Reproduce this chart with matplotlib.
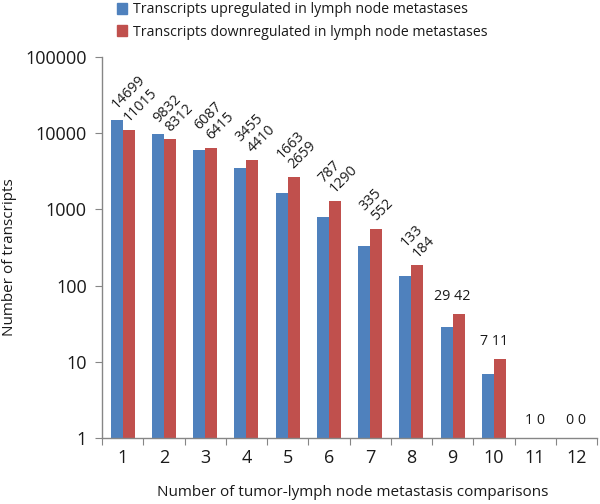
import matplotlib

matplotlib.use("Agg")
import matplotlib.pyplot as plt
import numpy as np
from matplotlib.patches import Patch

# values
comparisons = list(range(1, 13))
upregulated = [14699, 9832, 6087, 3455, 1663, 787, 335, 133, 29, 7, 1, 0]
downregulated = [11015, 8312, 6415, 4410, 2659, 1290, 552, 184, 42, 11, 0, 0]
y_ticks = [1, 10, 100, 1000, 10000, 100000]

BLUE = "#4F81BD"
RED = "#C0504D"
AXIS_GREY = "#868686"
TEXT = "#1a1a1a"

plt.rcParams["font.family"] = ["Open Sans", "DejaVu Sans"]

fig = plt.figure(figsize=(6.0, 5.04), dpi=100)
ax = fig.add_axes([0.17, 0.131, 0.825, 0.756])

x = np.array(comparisons, dtype=float)
up = np.array(upregulated, dtype=float)
down = np.array(downregulated, dtype=float)
width = 0.29

ax.bar(x - width / 2, np.where(up > 0, up, np.nan), width, color=BLUE)
ax.bar(x + width / 2, np.where(down > 0, down, np.nan), width, color=RED)

ax.set_yscale("log")
ax.set_ylim(1, 100000)
ax.set_xlim(0.5, 12.5)

# data labels: rotated for the big counts, plain for the small ones
label_kw = dict(textcoords="offset points", rotation=45,
                rotation_mode="anchor", ha="left", va="baseline",
                fontsize=10.3, color=TEXT)
for xi, u, d in zip(x, upregulated, downregulated):
    if xi <= 8:
        # the blue label sits in a row above the red one
        lift = 8 if u >= d else 13
        ax.annotate(str(u), (xi - width / 2, max(u, d)), xytext=(0, lift),
                    **label_kw)
        ax.annotate(str(d), (xi + width / 2, d), xytext=(0, 5.5), **label_kw)
    else:
        ax.text(xi, max(u, d, 1) * 1.7, f"{u} {d}", ha="center",
                va="center", fontsize=10.3, color=TEXT)

ax.set_yticks(y_ticks)
ax.set_yticklabels([str(v) for v in y_ticks])
ax.yaxis.set_minor_locator(matplotlib.ticker.NullLocator())
ax.set_xticks(np.arange(0.5, 13, 1.0))
ax.set_xticklabels([])
ax.set_xticks(x, minor=True)
ax.set_xticklabels([str(c) for c in comparisons], minor=True)
ax.tick_params(axis="x", which="major", length=5, color=AXIS_GREY)
ax.tick_params(axis="x", which="minor", length=0, pad=8, labelsize=13,
               labelcolor=TEXT)
ax.tick_params(axis="y", length=5, color=AXIS_GREY, labelsize=13,
               labelcolor=TEXT, pad=6)

for side in ("top", "right"):
    ax.spines[side].set_visible(False)
for side in ("left", "bottom"):
    ax.spines[side].set_color(AXIS_GREY)
    ax.spines[side].set_linewidth(1.0)

fig.text(0.016, 0.49, "Number of transcripts", rotation=90, ha="center",
         va="center", fontsize=11, color=TEXT)
fig.text(0.587, 0.022, "Number of tumor-lymph node metastasis comparisons",
         ha="center", va="center", fontsize=11, color=TEXT)

handles = [Patch(color=BLUE), Patch(color=RED)]
labels = ["Transcripts upregulated in lymph node metastases",
          "Transcripts downregulated in lymph node metastases"]
fig.legend(handles, labels, loc="upper left", bbox_to_anchor=(0.18, 1.012),
           frameon=False, fontsize=10.2, handlelength=0.75, handleheight=0.75,
           handletextpad=0.4, labelspacing=0.5, borderpad=0.1,
           labelcolor=TEXT)

fig.savefig("out.png", dpi=100)
